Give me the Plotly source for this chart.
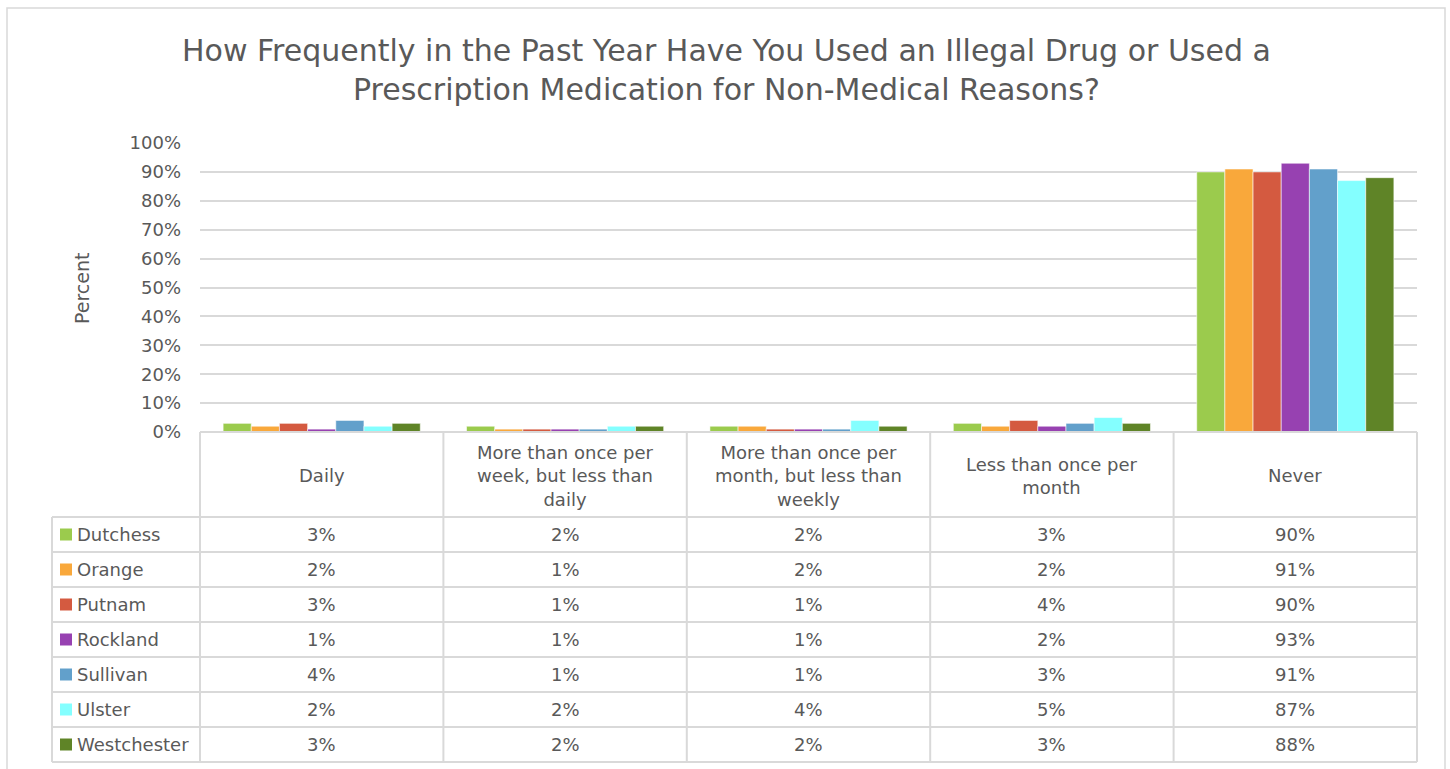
import plotly.graph_objects as go

categories = ["Daily",
              "More than once per week, but less than daily",
              "More than once per month, but less than weekly",
              "Less than once per month",
              "Never"]
header_labels = ["Daily",
                 "More than once per<br>week, but less than<br>daily",
                 "More than once per<br>month, but less than<br>weekly",
                 "Less than once per<br>month",
                 "Never"]
counties = ["Dutchess", "Orange", "Putnam", "Rockland", "Sullivan", "Ulster", "Westchester"]
dutchess = [3, 2, 2, 3, 90]
orange = [2, 1, 2, 2, 91]
putnam = [3, 1, 1, 4, 90]
rockland = [1, 1, 1, 2, 93]
sullivan = [4, 1, 1, 3, 91]
ulster = [2, 2, 4, 5, 87]
westchester = [3, 2, 2, 3, 88]
series = [dutchess, orange, putnam, rockland, sullivan, ulster, westchester]
colors = ["#9BCB4D", "#F9A83B", "#D45A40", "#9741B1", "#62A0CB", "#84FFFF", "#5F8427"]
y_ticks = list(range(0, 101, 10))

W, H = 1450, 769
FONT = "DejaVu Sans"
TXT = "#595959"
GRID = "#D9D9D9"

def px(x):
    return x / W

def py(y):
    return 1 - y / H

plot_l, plot_r = 200, 1417
plot_top, plot_bot = 143, 432
table_label_l = 52
row_top = 517
row_h = 35
ncat = len(categories)
col_w = (plot_r - plot_l) / ncat

fig = go.Figure()
xs = list(range(ncat))
for name, vals, c in zip(counties, series, colors):
    fig.add_trace(go.Bar(x=xs, y=vals, name=name,
                         marker=dict(color=c, line=dict(color="rgba(255,255,255,0.7)", width=0.8)),
                         showlegend=False, hoverinfo="skip"))

shapes = []
annotations = []

# outer chart border
shapes.append(dict(type="rect", xref="paper", yref="paper", x0=px(7), x1=px(1445), y0=py(775), y1=py(8),
                   line=dict(color=GRID, width=1.5), fillcolor="rgba(0,0,0,0)", layer="below"))

line_style = dict(color=GRID, width=2)
# table: vertical lines at column boundaries
for i in range(ncat + 1):
    x = plot_l + i * col_w
    shapes.append(dict(type="line", xref="paper", yref="paper", x0=px(x), x1=px(x),
                       y0=py(plot_bot), y1=py(row_top + row_h * len(counties)), line=line_style))
# left vertical of label column
shapes.append(dict(type="line", xref="paper", yref="paper", x0=px(table_label_l), x1=px(table_label_l),
                   y0=py(row_top), y1=py(row_top + row_h * len(counties)), line=line_style))
# top axis line (0%)
shapes.append(dict(type="line", xref="paper", yref="paper", x0=px(plot_l), x1=px(plot_r),
                   y0=py(plot_bot), y1=py(plot_bot), line=line_style))
# horizontal row lines
for r in range(len(counties) + 1):
    y = row_top + r * row_h
    shapes.append(dict(type="line", xref="paper", yref="paper", x0=px(table_label_l), x1=px(plot_r),
                       y0=py(y), y1=py(y), line=line_style))

TS = 18
# header labels
for i, lab in enumerate(header_labels):
    annotations.append(dict(x=i, xref="x", y=py((plot_bot + row_top) / 2 + 1), yref="paper", text=lab,
                            showarrow=False, xanchor="center", yanchor="middle", align="center",
                            font=dict(family=FONT, size=TS, color=TXT)))

# rows
for r, (name, vals, c) in enumerate(zip(counties, series, colors)):
    yc = row_top + r * row_h + row_h / 2
    shapes.append(dict(type="rect", xref="paper", yref="paper", x0=px(60), x1=px(72),
                       y0=py(yc + 6), y1=py(yc - 6), fillcolor=c, line=dict(width=0)))
    annotations.append(dict(x=px(75), xref="paper", y=py(yc), yref="paper", text=name, showarrow=False,
                            xanchor="left", yanchor="middle", font=dict(family=FONT, size=TS, color=TXT)))
    for i, v in enumerate(vals):
        annotations.append(dict(x=i, xref="x", y=py(yc), yref="paper", text=f"{v}%", showarrow=False,
                                xanchor="center", yanchor="middle", font=dict(family=FONT, size=TS, color=TXT)))

# title
annotations.append(dict(x=px(726), xref="paper", y=py(70), yref="paper",
                        text="How Frequently in the Past Year Have You Used an Illegal Drug or Used a<br>Prescription Medication for Non-Medical Reasons?",
                        showarrow=False, xanchor="center", yanchor="middle", align="center",
                        font=dict(family=FONT, size=30, color=TXT)))
# y-axis title
annotations.append(dict(x=px(82), xref="paper", y=py(288), yref="paper", text="Percent", textangle=-90,
                        showarrow=False, xanchor="center", yanchor="middle",
                        font=dict(family=FONT, size=19, color=TXT)))

fig.update_layout(
    width=W, height=H,
    margin=dict(l=0, r=0, t=0, b=0, autoexpand=False),
    paper_bgcolor="white", plot_bgcolor="white",
    barmode="group", bargap=0.19, bargroupgap=0,
    xaxis=dict(domain=[px(plot_l), px(plot_r)], range=[-0.5, ncat - 0.5], showticklabels=False,
               showgrid=False, zeroline=False, showline=False, ticks="", automargin=False),
    yaxis=dict(domain=[py(plot_bot), py(plot_top)], range=[0, 100], tickvals=y_ticks,
               ticktext=[f"{t}%" for t in y_ticks], showgrid=True, gridcolor=GRID, gridwidth=1.5,
               zeroline=False, showline=False, ticks="", ticklabelstandoff=18, automargin=False,
               tickfont=dict(family=FONT, size=18, color=TXT)),
    shapes=shapes, annotations=annotations,
)

fig.write_html("out.html", config={"displayModeBar": False},
               post_script="document.body.style.margin='0';")
